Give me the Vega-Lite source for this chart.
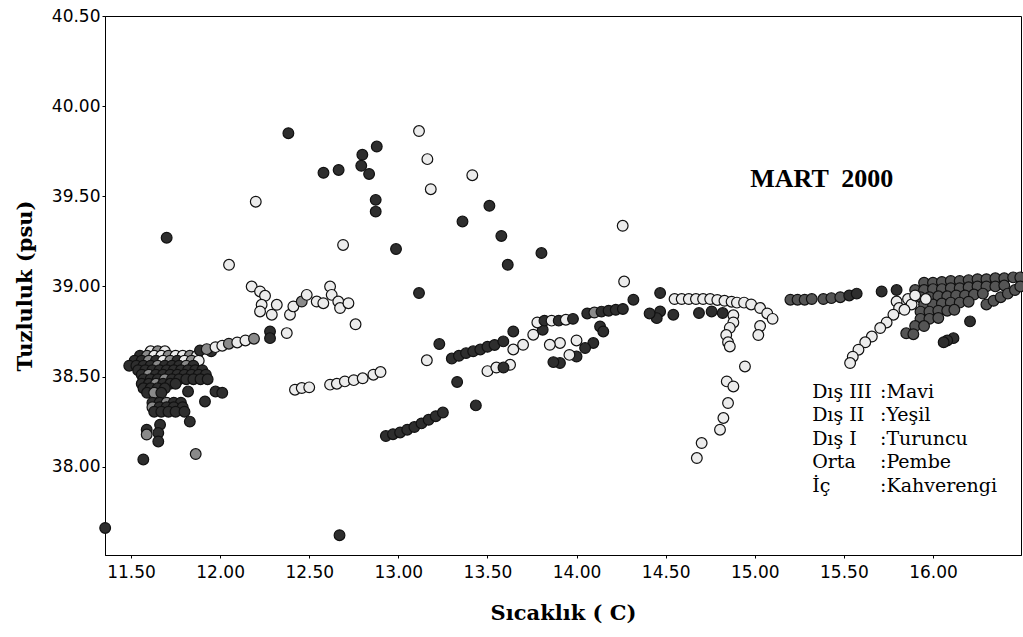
{
  "$schema": "https://vega.github.io/schema/vega-lite/v6.json",
  "width": 916,
  "height": 539,
  "autosize": "none",
  "padding": {"left": 105, "top": 16, "right": 2, "bottom": 82},
  "background": "white",
  "config": {
    "view": {"stroke": "#000", "strokeWidth": 1},
    "axis": {
      "domainColor": "#000", "tickColor": "#000", "tickSize": 3, "grid": false,
      "labelFont": "DejaVu Sans", "labelFontSize": 17, "labelColor": "#000",
      "titleFont": "DejaVu Serif", "titleFontWeight": "bold", "titleFontSize": 21, "titleColor": "#000"
    }
  },
  "datasets": {
    "pts": [
      {"x":13.116,"y":39.862,"t":"a"},{"x":12.879,"y":39.776,"t":"k"},{"x":12.798,"y":39.73,"t":"k"},{"x":12.792,"y":39.669,"t":"k"},
      {"x":12.836,"y":39.624,"t":"k"},{"x":13.163,"y":39.706,"t":"a"},{"x":13.415,"y":39.617,"t":"a"},{"x":13.182,"y":39.539,"t":"a"},
      {"x":12.873,"y":39.48,"t":"k"},{"x":12.873,"y":39.415,"t":"k"},{"x":13.511,"y":39.447,"t":"k"},{"x":13.36,"y":39.36,"t":"k"},
      {"x":13.578,"y":39.28,"t":"k"},{"x":14.259,"y":39.336,"t":"a"},{"x":13.803,"y":39.185,"t":"k"},{"x":13.614,"y":39.12,"t":"k"},
      {"x":12.69,"y":39.23,"t":"a"},{"x":12.987,"y":39.207,"t":"k"},{"x":14.267,"y":39.027,"t":"a"},{"x":14.319,"y":38.926,"t":"k"},
      {"x":13.116,"y":38.963,"t":"k"},{"x":12.665,"y":39.646,"t":"k"},{"x":12.383,"y":39.85,"t":"k"},{"x":12.58,"y":39.63,"t":"k"},
      {"x":12.2,"y":39.47,"t":"a"},{"x":11.7,"y":39.27,"t":"k"},{"x":12.05,"y":39.12,"t":"a"},{"x":11.355,"y":37.66,"t":"k"},
      {"x":12.67,"y":37.62,"t":"k"},

      {"x":11.61,"y":38.64,"t":"a"},{"x":11.65,"y":38.64,"t":"o"},{"x":11.69,"y":38.64,"t":"a"},
      {"x":11.55,"y":38.615,"t":"k"},{"x":11.59,"y":38.615,"t":"o"},{"x":11.63,"y":38.615,"t":"a"},{"x":11.67,"y":38.615,"t":"a"},{"x":11.71,"y":38.615,"t":"o"},{"x":11.75,"y":38.615,"t":"a"},{"x":11.79,"y":38.615,"t":"a"},{"x":11.83,"y":38.615,"t":"o"},{"x":11.87,"y":38.615,"t":"a"},
      {"x":11.52,"y":38.588,"t":"k"},{"x":11.56,"y":38.588,"t":"k"},{"x":11.6,"y":38.588,"t":"o"},{"x":11.64,"y":38.588,"t":"k"},{"x":11.68,"y":38.588,"t":"a"},{"x":11.72,"y":38.588,"t":"o"},{"x":11.76,"y":38.588,"t":"k"},{"x":11.8,"y":38.588,"t":"a"},{"x":11.84,"y":38.588,"t":"o"},{"x":11.88,"y":38.588,"t":"a"},
      {"x":11.49,"y":38.56,"t":"k"},{"x":11.53,"y":38.56,"t":"k"},{"x":11.57,"y":38.56,"t":"k"},{"x":11.61,"y":38.56,"t":"k"},{"x":11.65,"y":38.56,"t":"o"},{"x":11.69,"y":38.56,"t":"k"},{"x":11.73,"y":38.56,"t":"k"},{"x":11.77,"y":38.56,"t":"k"},{"x":11.81,"y":38.56,"t":"o"},{"x":11.85,"y":38.56,"t":"k"},
      {"x":11.54,"y":38.535,"t":"k"},{"x":11.58,"y":38.535,"t":"k"},{"x":11.62,"y":38.535,"t":"k"},{"x":11.66,"y":38.535,"t":"k"},{"x":11.7,"y":38.535,"t":"k"},{"x":11.74,"y":38.535,"t":"k"},{"x":11.78,"y":38.535,"t":"k"},{"x":11.82,"y":38.535,"t":"k"},{"x":11.86,"y":38.535,"t":"k"},{"x":11.9,"y":38.535,"t":"k"},
      {"x":11.56,"y":38.51,"t":"k"},{"x":11.6,"y":38.51,"t":"o"},{"x":11.64,"y":38.51,"t":"k"},{"x":11.68,"y":38.51,"t":"k"},{"x":11.72,"y":38.51,"t":"k"},{"x":11.76,"y":38.51,"t":"k"},{"x":11.8,"y":38.51,"t":"k"},{"x":11.84,"y":38.51,"t":"k"},{"x":11.88,"y":38.51,"t":"k"},{"x":11.92,"y":38.51,"t":"k"},
      {"x":11.57,"y":38.485,"t":"k"},{"x":11.61,"y":38.485,"t":"k"},{"x":11.65,"y":38.485,"t":"k"},{"x":11.69,"y":38.485,"t":"o"},{"x":11.73,"y":38.485,"t":"k"},{"x":11.77,"y":38.485,"t":"k"},{"x":11.81,"y":38.485,"t":"k"},{"x":11.85,"y":38.485,"t":"k"},{"x":11.89,"y":38.485,"t":"k"},{"x":11.93,"y":38.485,"t":"k"},
      {"x":11.56,"y":38.46,"t":"k"},{"x":11.6,"y":38.46,"t":"k"},{"x":11.64,"y":38.46,"t":"o"},{"x":11.68,"y":38.46,"t":"k"},{"x":11.72,"y":38.46,"t":"k"},{"x":11.75,"y":38.46,"t":"k"},
      {"x":11.57,"y":38.435,"t":"k"},{"x":11.61,"y":38.435,"t":"k"},{"x":11.65,"y":38.435,"t":"k"},{"x":11.69,"y":38.435,"t":"k"},
      {"x":11.59,"y":38.41,"t":"k"},{"x":11.63,"y":38.41,"t":"o"},{"x":11.67,"y":38.41,"t":"k"},
      {"x":11.82,"y":38.417,"t":"k"},{"x":11.915,"y":38.362,"t":"k"},{"x":11.974,"y":38.417,"t":"k"},{"x":12.012,"y":38.41,"t":"k"},
      {"x":11.62,"y":38.355,"t":"k"},{"x":11.66,"y":38.355,"t":"k"},{"x":11.7,"y":38.355,"t":"o"},{"x":11.74,"y":38.355,"t":"k"},{"x":11.78,"y":38.355,"t":"k"},
      {"x":11.62,"y":38.33,"t":"o"},{"x":11.66,"y":38.33,"t":"k"},{"x":11.7,"y":38.33,"t":"k"},{"x":11.74,"y":38.33,"t":"k"},{"x":11.79,"y":38.33,"t":"k"},
      {"x":11.63,"y":38.305,"t":"k"},{"x":11.67,"y":38.305,"t":"k"},{"x":11.71,"y":38.305,"t":"k"},{"x":11.75,"y":38.305,"t":"k"},{"x":11.8,"y":38.305,"t":"k"},
      {"x":11.83,"y":38.25,"t":"k"},{"x":11.663,"y":38.233,"t":"k"},{"x":11.588,"y":38.205,"t":"k"},{"x":11.588,"y":38.178,"t":"o"},{"x":11.653,"y":38.187,"t":"k"},{"x":11.653,"y":38.14,"t":"k"},{"x":11.569,"y":38.04,"t":"k"},{"x":11.863,"y":38.07,"t":"o"},

      {"x":11.887,"y":38.645,"t":"k"},{"x":11.95,"y":38.64,"t":"k"},{"x":11.925,"y":38.652,"t":"o"},{"x":11.974,"y":38.663,"t":"a"},{"x":12.012,"y":38.671,"t":"a"},{"x":12.049,"y":38.682,"t":"o"},{"x":12.096,"y":38.689,"t":"a"},{"x":12.142,"y":38.7,"t":"a"},{"x":12.19,"y":38.71,"t":"o"},

      {"x":12.177,"y":38.999,"t":"a"},{"x":12.224,"y":38.972,"t":"a"},{"x":12.252,"y":38.948,"t":"a"},{"x":12.233,"y":38.898,"t":"a"},{"x":12.224,"y":38.861,"t":"a"},{"x":12.29,"y":38.843,"t":"a"},{"x":12.318,"y":38.898,"t":"a"},{"x":12.392,"y":38.843,"t":"a"},{"x":12.411,"y":38.889,"t":"a"},{"x":12.458,"y":38.916,"t":"o"},{"x":12.486,"y":38.953,"t":"a"},{"x":12.542,"y":38.916,"t":"a"},{"x":12.579,"y":38.907,"t":"a"},{"x":12.617,"y":38.999,"t":"a"},{"x":12.626,"y":38.953,"t":"a"},{"x":12.663,"y":38.916,"t":"a"},{"x":12.673,"y":38.88,"t":"a"},{"x":12.72,"y":38.907,"t":"a"},{"x":12.76,"y":38.79,"t":"a"},{"x":12.374,"y":38.741,"t":"a"},{"x":12.28,"y":38.75,"t":"k"},{"x":12.28,"y":38.713,"t":"k"},

      {"x":12.42,"y":38.427,"t":"a"},{"x":12.458,"y":38.436,"t":"a"},{"x":12.5,"y":38.44,"t":"a"},{"x":12.617,"y":38.455,"t":"a"},{"x":12.655,"y":38.46,"t":"a"},{"x":12.7,"y":38.473,"t":"a"},{"x":12.75,"y":38.48,"t":"a"},{"x":12.8,"y":38.49,"t":"a"},{"x":12.86,"y":38.51,"t":"a"},{"x":12.9,"y":38.525,"t":"a"},

      {"x":12.93,"y":38.17,"t":"k"},{"x":12.97,"y":38.18,"t":"k"},{"x":13.01,"y":38.19,"t":"k"},{"x":13.05,"y":38.205,"t":"k"},{"x":13.09,"y":38.22,"t":"k"},{"x":13.13,"y":38.24,"t":"k"},{"x":13.17,"y":38.26,"t":"k"},{"x":13.21,"y":38.28,"t":"k"},{"x":13.25,"y":38.3,"t":"k"},
      {"x":13.23,"y":38.68,"t":"k"},{"x":13.16,"y":38.59,"t":"a"},{"x":13.435,"y":38.34,"t":"k"},{"x":13.33,"y":38.47,"t":"k"},

      {"x":13.3,"y":38.6,"t":"k"},{"x":13.34,"y":38.615,"t":"k"},{"x":13.38,"y":38.63,"t":"k"},{"x":13.42,"y":38.64,"t":"k"},{"x":13.46,"y":38.65,"t":"k"},{"x":13.5,"y":38.665,"t":"k"},{"x":13.54,"y":38.675,"t":"k"},{"x":13.589,"y":38.695,"t":"k"},{"x":13.645,"y":38.75,"t":"k"},
      {"x":13.5,"y":38.53,"t":"a"},{"x":13.55,"y":38.55,"t":"a"},{"x":13.627,"y":38.565,"t":"a"},{"x":13.59,"y":38.55,"t":"k"},{"x":13.7,"y":38.676,"t":"a"},{"x":13.645,"y":38.65,"t":"a"},{"x":13.757,"y":38.732,"t":"a"},{"x":13.81,"y":38.76,"t":"k"},
      {"x":13.78,"y":38.8,"t":"a"},{"x":13.82,"y":38.81,"t":"k"},{"x":13.86,"y":38.81,"t":"a"},{"x":13.9,"y":38.81,"t":"k"},{"x":13.94,"y":38.815,"t":"a"},{"x":13.98,"y":38.82,"t":"k"},
      {"x":14.06,"y":38.85,"t":"k"},{"x":14.1,"y":38.855,"t":"o"},{"x":14.14,"y":38.86,"t":"k"},{"x":14.18,"y":38.865,"t":"k"},{"x":14.22,"y":38.87,"t":"k"},{"x":14.26,"y":38.875,"t":"k"},
      {"x":14.132,"y":38.778,"t":"k"},{"x":14.15,"y":38.75,"t":"k"},{"x":14.094,"y":38.686,"t":"k"},{"x":14.048,"y":38.658,"t":"k"},{"x":14.0,"y":38.611,"t":"k"},{"x":13.907,"y":38.575,"t":"k"},{"x":13.87,"y":38.58,"t":"k"},{"x":13.907,"y":38.686,"t":"a"},{"x":13.85,"y":38.676,"t":"a"},{"x":13.96,"y":38.62,"t":"a"},{"x":14.0,"y":38.7,"t":"a"},

      {"x":14.469,"y":38.963,"t":"k"},{"x":14.469,"y":38.861,"t":"k"},{"x":14.45,"y":38.824,"t":"k"},{"x":14.41,"y":38.85,"t":"k"},{"x":14.543,"y":38.843,"t":"k"},{"x":14.687,"y":38.852,"t":"k"},{"x":14.758,"y":38.861,"t":"k"},{"x":14.82,"y":38.852,"t":"k"},
      {"x":14.55,"y":38.93,"t":"a"},{"x":14.59,"y":38.93,"t":"a"},{"x":14.63,"y":38.93,"t":"a"},{"x":14.67,"y":38.93,"t":"a"},{"x":14.71,"y":38.93,"t":"a"},{"x":14.75,"y":38.93,"t":"a"},{"x":14.79,"y":38.925,"t":"a"},{"x":14.83,"y":38.92,"t":"a"},{"x":14.87,"y":38.915,"t":"a"},{"x":14.9,"y":38.91,"t":"a"},
      {"x":14.94,"y":38.91,"t":"a"},{"x":14.98,"y":38.9,"t":"a"},{"x":15.03,"y":38.88,"t":"a"},{"x":15.07,"y":38.85,"t":"a"},{"x":15.1,"y":38.82,"t":"a"},{"x":15.03,"y":38.78,"t":"a"},{"x":15.02,"y":38.73,"t":"a"},
      {"x":14.88,"y":38.84,"t":"a"},{"x":14.88,"y":38.8,"t":"a"},{"x":14.86,"y":38.77,"t":"a"},{"x":14.84,"y":38.73,"t":"a"},{"x":14.85,"y":38.69,"t":"a"},{"x":14.86,"y":38.667,"t":"a"},{"x":14.945,"y":38.556,"t":"a"},{"x":14.843,"y":38.473,"t":"a"},{"x":14.88,"y":38.445,"t":"a"},{"x":14.85,"y":38.353,"t":"a"},{"x":14.824,"y":38.27,"t":"a"},{"x":14.805,"y":38.205,"t":"a"},{"x":14.702,"y":38.131,"t":"a"},{"x":14.675,"y":38.048,"t":"a"},

      {"x":15.2,"y":38.926,"t":"m"},{"x":15.24,"y":38.926,"t":"m"},{"x":15.28,"y":38.926,"t":"m"},{"x":15.32,"y":38.93,"t":"m"},
      {"x":15.385,"y":38.93,"t":"m"},{"x":15.43,"y":38.935,"t":"m"},{"x":15.48,"y":38.94,"t":"m"},{"x":15.53,"y":38.95,"t":"k"},{"x":15.572,"y":38.96,"t":"k"},
      {"x":15.712,"y":38.972,"t":"k"},{"x":15.796,"y":38.98,"t":"k"},
      {"x":15.796,"y":38.916,"t":"a"},{"x":15.81,"y":38.88,"t":"a"},{"x":15.778,"y":38.843,"t":"a"},{"x":15.74,"y":38.8,"t":"a"},{"x":15.704,"y":38.769,"t":"a"},{"x":15.657,"y":38.722,"t":"a"},{"x":15.62,"y":38.69,"t":"a"},{"x":15.582,"y":38.649,"t":"a"},{"x":15.55,"y":38.61,"t":"a"},{"x":15.535,"y":38.575,"t":"a"},

      {"x":15.95,"y":39.02,"t":"m"},{"x":16.0,"y":39.02,"t":"m"},{"x":16.05,"y":39.025,"t":"m"},{"x":16.1,"y":39.03,"t":"m"},{"x":16.15,"y":39.03,"t":"m"},{"x":16.2,"y":39.035,"t":"m"},{"x":16.25,"y":39.04,"t":"m"},{"x":16.3,"y":39.04,"t":"m"},{"x":16.35,"y":39.045,"t":"m"},{"x":16.4,"y":39.045,"t":"m"},{"x":16.45,"y":39.05,"t":"m"},{"x":16.49,"y":39.05,"t":"m"},
      {"x":15.9,"y":38.98,"t":"m"},{"x":15.95,"y":38.98,"t":"m"},{"x":16.0,"y":38.985,"t":"m"},{"x":16.05,"y":38.985,"t":"m"},{"x":16.1,"y":38.99,"t":"m"},{"x":16.15,"y":38.99,"t":"m"},{"x":16.2,"y":38.995,"t":"m"},{"x":16.25,"y":39.0,"t":"m"},{"x":16.3,"y":39.0,"t":"m"},{"x":16.35,"y":39.0,"t":"m"},{"x":16.4,"y":39.005,"t":"m"},
      {"x":15.93,"y":38.94,"t":"m"},{"x":15.98,"y":38.94,"t":"m"},{"x":16.03,"y":38.945,"t":"m"},{"x":16.08,"y":38.945,"t":"m"},{"x":16.13,"y":38.95,"t":"m"},{"x":16.18,"y":38.95,"t":"m"},{"x":16.23,"y":38.955,"t":"m"},{"x":16.28,"y":38.96,"t":"m"},
      {"x":15.95,"y":38.9,"t":"m"},{"x":16.0,"y":38.9,"t":"m"},{"x":16.05,"y":38.905,"t":"m"},{"x":16.1,"y":38.91,"t":"m"},{"x":16.15,"y":38.91,"t":"m"},{"x":16.2,"y":38.915,"t":"m"},
      {"x":15.93,"y":38.86,"t":"m"},{"x":15.98,"y":38.86,"t":"m"},{"x":16.03,"y":38.865,"t":"m"},{"x":16.08,"y":38.865,"t":"m"},{"x":16.12,"y":38.87,"t":"m"},
      {"x":15.93,"y":38.82,"t":"m"},{"x":15.98,"y":38.82,"t":"m"},{"x":16.03,"y":38.825,"t":"m"},
      {"x":15.9,"y":38.78,"t":"m"},{"x":15.95,"y":38.78,"t":"m"},{"x":15.85,"y":38.74,"t":"m"},{"x":15.89,"y":38.735,"t":"m"},
      {"x":16.3,"y":38.9,"t":"m"},{"x":16.34,"y":38.92,"t":"m"},{"x":16.38,"y":38.94,"t":"m"},{"x":16.42,"y":38.96,"t":"m"},{"x":16.46,"y":38.98,"t":"m"},{"x":16.49,"y":39.0,"t":"m"},
      {"x":16.208,"y":38.806,"t":"k"},{"x":16.115,"y":38.713,"t":"k"},{"x":16.08,"y":38.7,"t":"k"},{"x":16.06,"y":38.69,"t":"k"},
      {"x":15.86,"y":38.93,"t":"a"},{"x":15.88,"y":38.9,"t":"a"},{"x":15.84,"y":38.87,"t":"a"},{"x":15.9,"y":38.95,"t":"a"},{"x":15.96,"y":38.93,"t":"a"}
    ]
  },
  "layer": [
    {
      "data": {"name": "pts"},
      "mark": {"type": "point", "shape": "circle", "filled": true, "size": 115, "stroke": "#111", "strokeWidth": 1.2, "opacity": 1},
      "encoding": {
        "x": {"field": "x", "type": "quantitative", "scale": {"domain": [11.354, 16.494], "nice": false, "zero": false},
              "axis": {"title": "Sıcaklık ( C)", "values": [11.5, 12, 12.5, 13, 13.5, 14, 14.5, 15, 15.5, 16], "format": ".2f", "labelPadding": 6, "titlePadding": 22}},
        "y": {"field": "y", "type": "quantitative", "scale": {"domain": [37.51, 40.5], "nice": false, "zero": false},
              "axis": {"title": "Tuzluluk (psu)", "values": [38, 38.5, 39, 39.5, 40, 40.5], "format": ".2f", "labelPadding": 2, "titlePadding": 16}},
        "fill": {"field": "t", "type": "nominal", "scale": {"domain": ["k", "m", "o", "a"], "range": ["#2e2e2e", "#555555", "#8a8a8a", "#ececec"]}, "legend": null}
      }
    },
    {
      "data": {"values": [{}]},
      "mark": {"type": "text", "text": "MART \u00a02000", "font": "Liberation Serif", "fontWeight": "bold", "fontSize": 26, "align": "left", "baseline": "alphabetic", "color": "#000"},
      "encoding": {"x": {"datum": 14.975, "type": "quantitative"}, "y": {"datum": 39.55, "type": "quantitative"}}
    },
    {
      "data": {"values": [{}]},
      "mark": {"type": "text", "text": ["Dış III", "Dış II", "Dış I", "Orta", "İç"], "font": "DejaVu Serif", "fontSize": 19, "lineHeight": 23.4, "align": "left", "baseline": "alphabetic", "color": "#000"},
      "encoding": {"x": {"datum": 15.322, "type": "quantitative"}, "y": {"datum": 38.381, "type": "quantitative"}}
    },
    {
      "data": {"values": [{}]},
      "mark": {"type": "text", "text": [":Mavi", ":Yeşil", ":Turuncu", ":Pembe", ":Kahverengi"], "font": "DejaVu Serif", "fontSize": 19, "lineHeight": 23.4, "align": "left", "baseline": "alphabetic", "color": "#000"},
      "encoding": {"x": {"datum": 15.703, "type": "quantitative"}, "y": {"datum": 38.381, "type": "quantitative"}}
    }
  ]
}
